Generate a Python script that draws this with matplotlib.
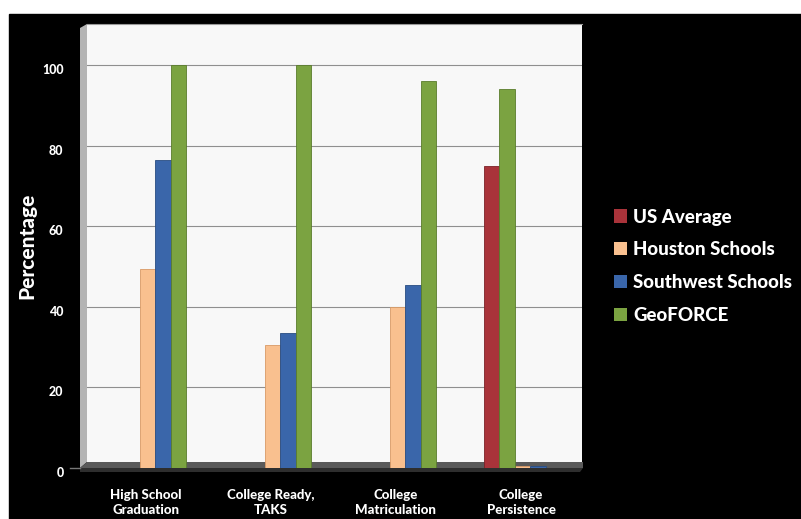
import numpy as np
import matplotlib
matplotlib.use("Agg")
import matplotlib.pyplot as plt
from matplotlib.patches import Polygon, Rectangle, Patch
from matplotlib.transforms import ScaledTranslation

# ---- data ----
categories = ["High School\nGraduation", "College Ready,\nTAKS", "College\nMatriculation", "College\nPersistence"]
series = ["US Average", "Houston Schools", "Southwest Schools", "GeoFORCE"]
us_average = [np.nan, np.nan, np.nan, 75]
houston = [49.5, 30.5, 40, 0]
southwest = [76.5, 33.5, 45.5, 0]
geoforce = [100, 100, 96, 94]
yticks = [0, 20, 40, 60, 80, 100]

values = [us_average, houston, southwest, geoforce]
colors = ["#A9333A", "#F9C08F", "#3A66AA", "#7BA341"]
edges = ["#7a2228", "#d89a66", "#284c82", "#5a7c2c"]
# slot of each series within each category (3D layout of the original)
slots = [[0, 1, 2, 3], [0, 1, 2, 3], [0, 1, 2, 3], [-1, 1, 2, 0]]

FONT = "Lato"
WEIGHT = "black"

W, H = 801, 519
fig = plt.figure(figsize=(W / 100, H / 100), dpi=100)
fig.patch.set_facecolor("white")

# black slide background
bg = fig.add_axes([0, 0, 1, 1])
bg.set_xlim(0, W); bg.set_ylim(H, 0); bg.axis("off")
bg.add_patch(Rectangle((9, 14), W - 9, H - 14, color="black"))

L, R, T, B = 87, 582, 24, 468
ax = fig.add_axes([L / W, (H - B) / H, (R - L) / W, (B - T) / H])
ax.set_facecolor("#f8f8f8")
ppu = (B - 65) / 100.0
ax.set_ylim(0, (B - T) / ppu)
sp = 125.0
ax.set_xlim((L - 146) / sp, (R - 146) / sp)

def px(x, y):
    return ((x - L) / (R - L), (B - y) / (B - T))

# left side wall and floor (3D decoration)
ax.add_patch(Polygon([px(80, 28), px(87, 24), px(87, 462), px(80, 468)],
                     closed=True, transform=ax.transAxes, clip_on=False,
                     facecolor="#b4b4b4", edgecolor="none", zorder=0.5))
ax.add_patch(Polygon([px(87, 462), px(583, 462), px(583, 468), px(80, 468)],
                     closed=True, transform=ax.transAxes, clip_on=False,
                     facecolor="#5a5a5a", edgecolor="none", zorder=1))
ax.add_patch(Polygon([px(80, 468), px(583, 468), px(580, 472), px(80, 472)],
                     closed=True, transform=ax.transAxes, clip_on=False,
                     facecolor="#2e2e2e", edgecolor="none", zorder=1))
ax.plot([px(70, 0)[0], px(80, 0)[0]], [0, 0], color="#777777", lw=1,
        transform=ax.get_yaxis_transform(), clip_on=False)

bw = 0.124
x = np.arange(len(categories))
for s, (vals, c, ec) in enumerate(zip(values, colors, edges)):
    for i, v in enumerate(vals):
        if np.isnan(v):
            continue
        xc = x[i] + 0.012 + (slots[i][s] - 1) * bw
        h = v if v > 0 else 0.5
        ax.bar(xc, h, width=bw, bottom=0, color=c, edgecolor=ec, linewidth=0.6, zorder=3)

ax.set_yticks(yticks)
ax.yaxis.grid(True, color="#8f8f8f", linewidth=0.8)
ax.set_axisbelow(True)
ax.tick_params(axis="y", length=0, pad=17, colors="white", labelsize=9)
for lab in ax.get_yticklabels():
    lab.set_fontweight(WEIGHT); lab.set_fontfamily(FONT)
    lab.set_transform(lab.get_transform() + ScaledTranslation(0, -4 / 100, fig.dpi_scale_trans))

ax.set_xticks(x)
ax.set_xticklabels(categories, fontsize=9.5, fontweight=WEIGHT, color="white",
                   family=FONT, linespacing=1.3)
ax.tick_params(axis="x", length=0, pad=15)
for sp_ in ax.spines.values():
    sp_.set_visible(False)
ax.spines["top"].set_visible(True); ax.spines["top"].set_color("#9a9a9a")

fig.text(27 / W, 1 - 246 / H, "Percentage", rotation=90, ha="center", va="center",
         color="white", fontsize=15, fontweight=WEIGHT, family=FONT)

handles = [Patch(facecolor=c, edgecolor="none") for c in colors]
leg = fig.legend(handles, series, loc="upper left", bbox_to_anchor=(606 / W, 1 - 201 / H),
                 frameon=False, prop={"family": FONT, "weight": WEIGHT, "size": 13.5},
                 labelcolor="white", handlelength=0.7, handleheight=0.7,
                 handletextpad=0.35, labelspacing=0.85, borderaxespad=0)

fig.savefig("out.png", dpi=100, facecolor=fig.get_facecolor())
